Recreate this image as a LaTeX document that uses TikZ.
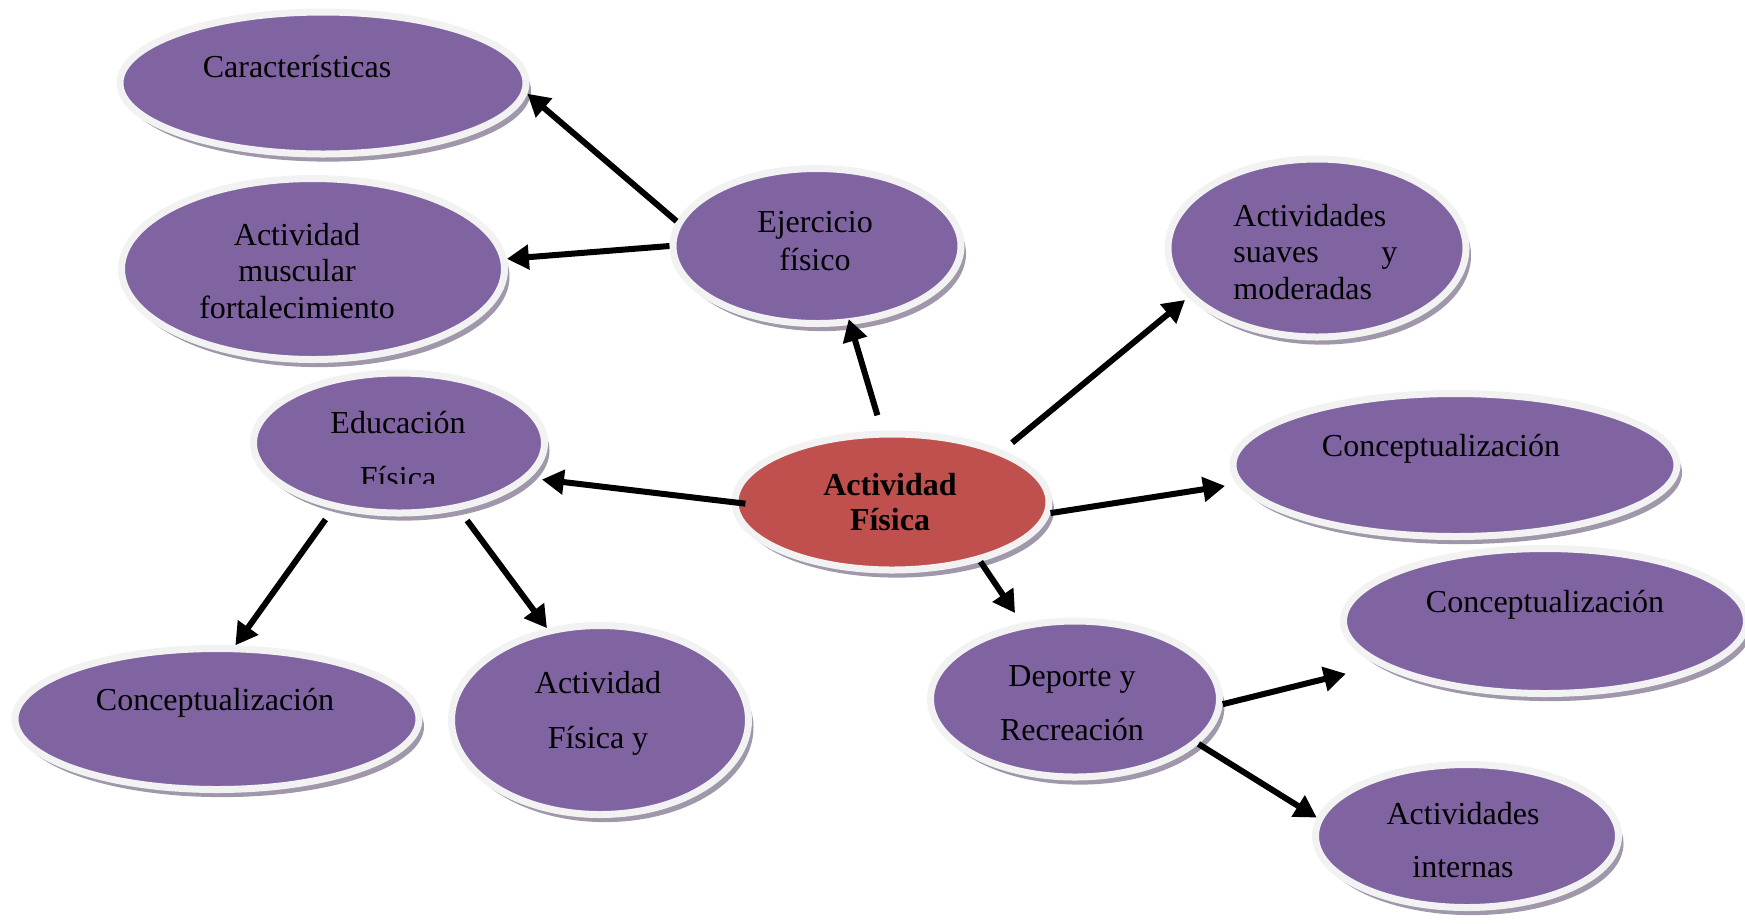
\documentclass[tikz,border=0pt]{standalone}
\usepackage{fontspec}
\setmainfont{Liberation Serif}
\usetikzlibrary{shapes.geometric, shadows, arrows.meta}

\definecolor{bubblepurple}{RGB}{128,100,162}
\definecolor{corered}{RGB}{192,80,77}
\definecolor{rimgray}{RGB}{242,242,242}
\definecolor{shadowgray}{RGB}{160,152,170}

\begin{document}
\begin{tikzpicture}[
  x=0.5pt, y=-0.5pt,
  bubble/.style={
    ellipse, draw=rimgray, line width=3.5pt, fill=bubblepurple, inner sep=0pt,
    drop shadow={shadow xshift=2.5pt, shadow yshift=-3.8pt,
                 fill=shadowgray, opacity=1}
  },
  core/.style={bubble, fill=corered},
  lbl/.style={anchor=base, inner sep=0pt, font=\fontsize{16}{19}\selectfont},
  arr/.style={-{Triangle[length=11pt, width=12pt]}, line width=3pt}
]
\useasboundingbox (0,0) rectangle (1745,923);

%% ── Bubbles ──────────────────────────────────────────────────
\node[bubble, minimum width=203pt,   minimum height=71pt]   (car) at (323,83)   {};
\node[bubble, minimum width=191.5pt, minimum height=90.5pt] (mus) at (313,269)  {};
\node[bubble, minimum width=144pt,   minimum height=77.5pt] (ejr) at (817,246)  {};
\node[bubble, minimum width=149pt,   minimum height=89pt]   (sua) at (1317,248) {};
\node[bubble, minimum width=145.5pt, minimum height=70pt]   (edu) at (399,443)  {};
\node[core,   minimum width=157pt,   minimum height=68pt]   (af)  at (892,502)  {};
\node[bubble, minimum width=222pt,   minimum height=71.5pt] (cr1) at (1455,465) {};
\node[bubble, minimum width=201.5pt, minimum height=72.5pt] (cr2) at (1545,621) {};
\node[bubble, minimum width=144.5pt, minimum height=78pt]   (dep) at (1075,699) {};
\node[bubble, minimum width=202pt,   minimum height=70.5pt] (cl)  at (217,719)  {};
\node[bubble, minimum width=148.5pt, minimum height=94.5pt] (afy) at (600,720)  {};
\node[bubble, minimum width=151.5pt, minimum height=71.5pt] (int) at (1467,836) {};

%% ── Texts ────────────────────────────────────────────────────
\node[lbl] (carT) at (297,77) {Características};

\node[lbl] (mus1) at (297,245) {Actividad};
\node[lbl] (mus2) at (297,281) {muscular};
\node[lbl] (mus3) at (297,318) {fortalecimiento};

\node[lbl] (ejr1) at (815,232) {Ejercicio};
\node[lbl] (ejr2) at (815,270) {físico};

\node[lbl, anchor=base west] (sua1) at (1233,226) {Actividades};
\node[lbl, anchor=base west] (sua2) at (1233,262) {\hbox to 82pt{suaves\hfill y}};
\node[lbl, anchor=base west] (sua3) at (1233,299) {moderadas};

\begin{scope}
  \clip (250,370) rectangle (548,483);
  \node[lbl] (edu1) at (398,433) {Educación};
  \node[lbl] (edu2) at (398,488) {Física};
\end{scope}

\node[lbl, font=\fontsize{16}{19}\selectfont\bfseries] (af1) at (890,495) {Actividad};
\node[lbl, font=\fontsize{16}{19}\selectfont\bfseries] (af2) at (890,530) {Física};

\node[lbl] (cr1T) at (1441,456) {Conceptualización};
\node[lbl] (cr2T) at (1545,612) {Conceptualización};

\node[lbl] (dep1) at (1072,686) {Deporte y};
\node[lbl] (dep2) at (1072,740) {Recreación};

\node[lbl] (clT) at (215,710) {Conceptualización};

\node[lbl] (afy1) at (598,693) {Actividad};
\node[lbl] (afy2) at (598,748) {Física y};

\node[lbl] (int1) at (1463,824) {Actividades};
\node[lbl] (int2) at (1463,877) {internas};

%% ── Arrows ───────────────────────────────────────────────────
\draw[arr] (ejr.170) -- (car.-3);
\draw[arr] (ejr.180) -- (mus.3);

\draw[arr, shorten <=8pt, shorten >=-3pt] (af.98) -- (ejr.-67);
\draw[arr, shorten <=6pt, shorten >=2pt]  (af.25) -- (sua.201);
\draw[arr, shorten <=-7pt, shorten >=6pt] (af.180) -- (edu.-15);
\draw[arr, shorten >=6pt] (af.-4)  -- (cr1.185);
\draw[arr, shorten >=6pt] (af.-34) -- (dep.125);

\draw[arr, shorten <=6.5pt] (edu.225) -- (cl.76);
\draw[arr, shorten <=6.4pt] (edu.-48) -- (afy.120);

\draw[arr, shorten >=17pt] (dep.-2)  -- (cr2.195);
\draw[arr]                 (dep.-20) -- (int.173);

\end{tikzpicture}
\end{document}
